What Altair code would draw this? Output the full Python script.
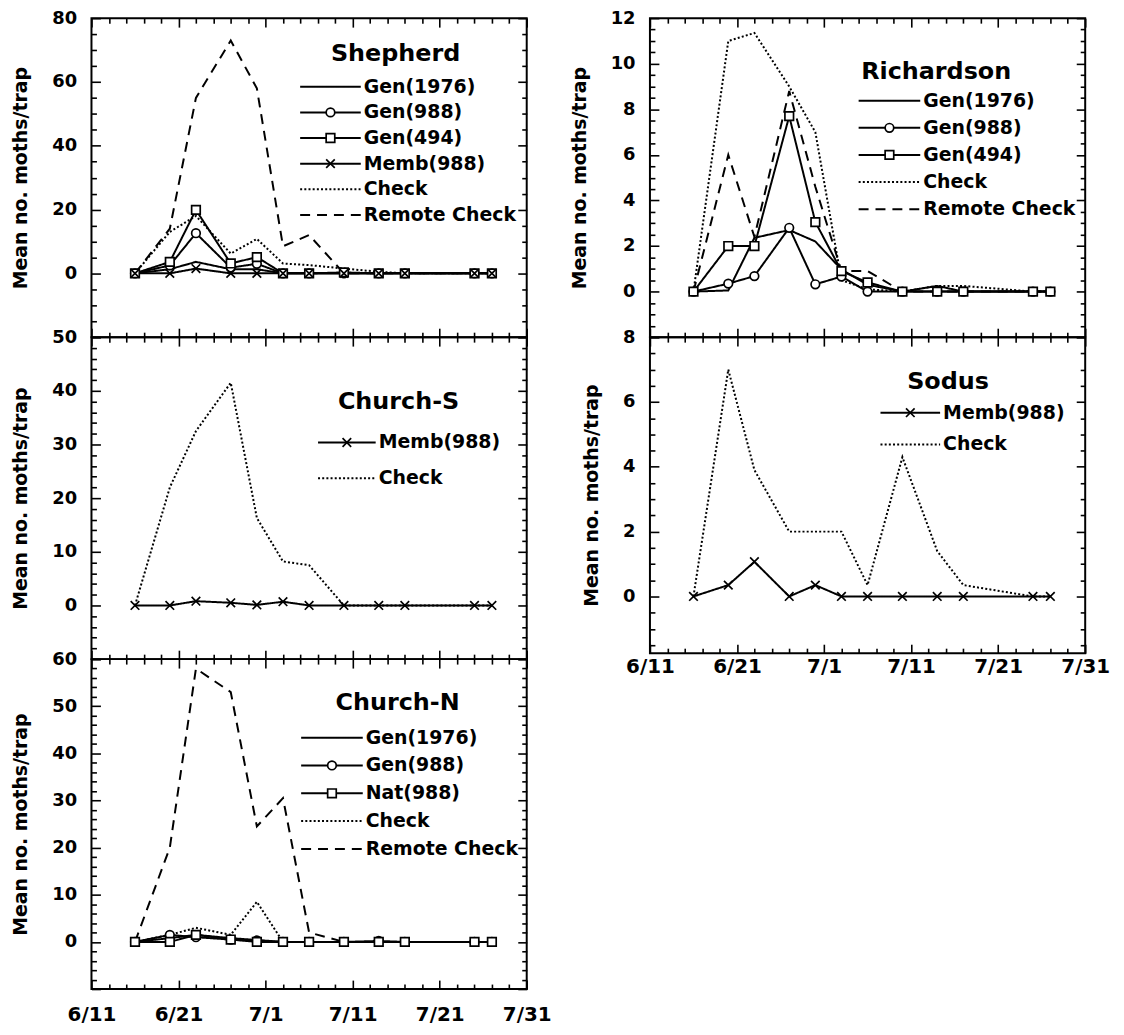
import math
import altair as alt
import pandas as pd

# ---------------- data ----------------
dates = ["6/16", "6/20", "6/23", "6/27", "6/30", "7/3", "7/6", "7/10", "7/14", "7/17", "7/25", "7/27"]
x_tick_labels = ["6/11", "6/21", "7/1", "7/11", "7/21", "7/31"]
y_title = "Mean no. moths/trap"

# Shepherd
shep_gen1976 = [0, 1.3, 3.6, 1.3, 1.3, 0, 0, 0, 0, 0, 0, 0]
shep_gen988 = [0, 2.5, 12.6, 1.8, 3.0, 0, 0, 0, 0, 0, 0, 0]
shep_gen494 = [0, 3.6, 19.9, 3.1, 5.1, 0, 0, 0.3, 0, 0, 0, 0]
shep_memb988 = [0, 0, 1.5, 0, 0, 0, 0, 0, 0, 0, 0, 0]
shep_check = [0, 13, 18, 6.2, 10.8, 3.1, 2.6, 1.5, 0.5, 0, 0, 0]
shep_remote = [0, 14, 55, 73, 58, 8.5, 12, 0, 0, 0, 0, 0]

# Church-S
chs_memb988 = [0, 0, 0.8, 0.5, 0.1, 0.7, 0, 0, 0, 0, 0, 0]
chs_check = [0, 22, 32.5, 41.5, 16.3, 8.2, 7.5, 0, 0, 0, 0, 0]

# Church-N
chn_gen1976 = [0, 0.8, 1.5, 0.8, 0.4, 0, 0, 0, 0, 0, 0, 0]
chn_gen988 = [0, 1.5, 1.0, 0.5, 0.3, 0, 0, 0, 0.2, 0, 0, 0]
chn_nat988 = [0, 0, 1.5, 0.5, 0, 0, 0, 0, 0, 0, 0, 0]
chn_check = [0, 1.5, 3.0, 1.5, 8.5, 0, 0, 0, 0, 0, 0, 0]
chn_remote = [0, 20, 58, 53, 24.5, 30.5, 2, 0, 0, 0, 0, 0]

# Richardson
ric_gen1976 = [0, 0.05, 2.36, 2.7, 2.2, 0.97, 0.3, 0, 0.25, 0, 0, 0]
ric_gen988 = [0, 0.35, 0.68, 2.8, 0.32, 0.66, 0, 0, 0, 0, 0, 0]
ric_gen494 = [0, 2.0, 2.0, 7.7, 3.05, 0.9, 0.4, 0, 0, 0, 0, 0]
ric_check = [0, 11.0, 11.35, 9.0, 7.0, 0.5, 0.1, 0, 0.25, 0.25, 0, 0]
ric_remote = [0, 6.0, 2.4, 8.8, 4.6, 0.9, 0.9, 0, 0, 0, 0, 0]

# Sodus
sod_memb988 = [0, 0.35, 1.07, 0, 0.35, 0, 0, 0, 0, 0, 0, 0]
sod_check = [0, 7.0, 3.9, 2.0, 2.0, 2.0, 0.35, 4.3, 1.4, 0.35, 0, 0]

# ---------------- styling ----------------
FONT = "DejaVu Sans"
W = 438
all_series = ["Gen(1976)", "Gen(988)", "Gen(494)", "Memb(988)", "Nat(988)", "Check", "Remote Check"]
dash_range = [[1, 0], [1, 0], [1, 0], [1, 0], [1, 0], [2, 2.2], [10, 7]]
X_PATH = "M-1,-1L1,1M-1,1L1,-1"
marker_series = ["Gen(988)", "Gen(494)", "Memb(988)", "Nat(988)"]
marker_shapes = ["circle", "square", X_PATH, "square"]
dash_scale = alt.Scale(domain=all_series, range=dash_range)
shape_scale = alt.Scale(domain=marker_series, range=marker_shapes)


def day_of(s):
    m, d = s.split("/")
    return (int(m) - 6) * 30 + int(d) - 11


days = [day_of(s) for s in dates]
x_label_days = [day_of(s) for s in x_tick_labels]
x_label_expr = " : ".join(f"datum.value == {d} ? '{l}'" for d, l in zip(x_label_days, x_tick_labels)) + " : ''"
x_ticks = list(range(0, 51, 2))


def tick_list(lo, hi, step):
    n0 = math.ceil(lo / step - 1e-9)
    n1 = math.floor(hi / step + 1e-9)
    return [round(k * step, 6) for k in range(n0, n1 + 1)]


def tick_size(step, big=9, small=5):
    test = f"abs(datum.value / {step} - round(datum.value / {step})) < 0.001"
    return {"condition": {"test": test, "value": big}, "value": small}


def tick_axis(orient, offset, values, step):
    return alt.Axis(orient=orient, offset=offset, values=values, labels=False, domain=False,
                    ticks=True, tickSize=tick_size(step), tickColor="black", tickWidth=1.6,
                    grid=False, title=None)


def panel(name, series, markers, ydomain, ymajor, yminor, height, leg, xlabel_pad=None):
    rows = []
    for s, vals in series.items():
        for d, v in zip(days, vals):
            rows.append({"series": s, "day": d, "value": v})
    df = pd.DataFrame(rows)
    xs = alt.Scale(domain=[0, 50], nice=False, zero=False)
    ys = alt.Scale(domain=ydomain, nice=False, zero=False)
    ylabels = [v for v in tick_list(0, ydomain[1], ymajor)]
    yticks = tick_list(ydomain[0], ydomain[1], yminor)

    x3 = alt.Axis(orient="bottom", values=x_label_days, labelExpr=x_label_expr, ticks=False,
                  domain=False, grid=False, title=None, labelPadding=xlabel_pad, labelFlush=False,
                  labelOverlap=False, labelFontSize=20) if xlabel_pad is not None else None
    y3 = alt.Axis(orient="left", values=ylabels, ticks=False, domain=False, grid=False,
                  title=y_title, labelPadding=15, titlePadding=21, labelOverlap=False,
                  format="d")

    lines = alt.Chart(df).mark_line(color="black", strokeWidth=2).encode(
        x=alt.X("day:Q", scale=xs, axis=x3),
        y=alt.Y("value:Q", scale=ys, axis=y3),
        strokeDash=alt.StrokeDash("series:N", scale=dash_scale, legend=None),
        detail="series:N",
    )
    pts = alt.Chart(df[df["series"].isin(markers)]).mark_point(
        filled=True, fill="white", stroke="black", strokeWidth=1.7, size=75, opacity=1
    ).encode(
        x=alt.X("day:Q", scale=xs, axis=tick_axis("bottom", -height, x_ticks, 10)),
        y=alt.Y("value:Q", scale=ys, axis=tick_axis("right", -W, yticks, ymajor)),
        shape=alt.Shape("series:N", scale=shape_scale, legend=None),
    )
    carrier = alt.Chart(df).mark_point(opacity=0).encode(
        x=alt.X("day:Q", scale=xs, axis=tick_axis("top", -height, x_ticks, 10)),
        y=alt.Y("value:Q", scale=ys, axis=tick_axis("left", -W, yticks, ymajor)),
    )

    names = list(series.keys())
    ldf = pd.DataFrame({"series": names, "idx": list(range(len(names)))})
    ldf["py"] = leg["y0"] + ldf["idx"] * leg["dy"]
    ly = alt.Y("py:Q", scale=None, axis=None)
    leg_rule = alt.Chart(ldf).mark_rule(color="black", strokeWidth=2).encode(
        x=alt.value(leg["x0"]), x2=alt.value(leg["x1"]), y=ly,
        strokeDash=alt.StrokeDash("series:N", scale=dash_scale, legend=None),
    )
    leg_pts = alt.Chart(ldf[ldf["series"].isin(markers)]).mark_point(
        filled=True, fill="white", stroke="black", strokeWidth=1.7, size=75, opacity=1
    ).encode(
        x=alt.value((leg["x0"] + leg["x1"]) / 2), y=ly,
        shape=alt.Shape("series:N", scale=shape_scale, legend=None),
    )
    leg_txt = alt.Chart(ldf).mark_text(align="left", baseline="middle", font=FONT,
                                       fontSize=19, fontWeight="bold", color="black").encode(
        x=alt.value(leg["x1"] + 3), y=ly, text="series:N",
    )
    title = alt.Chart(pd.DataFrame({"t": [name]})).mark_text(
        align="center", baseline="middle", font=FONT, fontSize=24, fontWeight="bold", color="black"
    ).encode(x=alt.value(leg["tx"]), y=alt.value(leg["ty"]), text="t:N")

    return alt.layer(lines, pts, carrier, leg_rule, leg_pts, leg_txt, title).resolve_axis(
        x="independent", y="independent"
    ).properties(width=W, height=height)


shepherd = panel(
    "Shepherd",
    {"Gen(1976)": shep_gen1976, "Gen(988)": shep_gen988, "Gen(494)": shep_gen494,
     "Memb(988)": shep_memb988, "Check": shep_check, "Remote Check": shep_remote},
    ["Gen(988)", "Gen(494)", "Memb(988)"], [-20, 80], 20, 5, 321,
    {"y0": 69, "dy": 25.8, "x0": 210, "x1": 271, "tx": 306, "ty": 36})

church_s = panel(
    "Church-S",
    {"Memb(988)": chs_memb988, "Check": chs_check},
    ["Memb(988)"], [-10, 50], 10, 2, 324,
    {"y0": 106, "dy": 36, "x0": 228, "x1": 286, "tx": 309, "ty": 65})

church_n = panel(
    "Church-N",
    {"Gen(1976)": chn_gen1976, "Gen(988)": chn_gen988, "Nat(988)": chn_nat988,
     "Check": chn_check, "Remote Check": chn_remote},
    ["Gen(988)", "Nat(988)"], [-10, 60], 10, 2, 332,
    {"y0": 79, "dy": 28, "x0": 211, "x1": 273, "tx": 308, "ty": 44}, xlabel_pad=16)

richardson = panel(
    "Richardson",
    {"Gen(1976)": ric_gen1976, "Gen(988)": ric_gen988, "Gen(494)": ric_gen494,
     "Check": ric_check, "Remote Check": ric_remote},
    ["Gen(988)", "Gen(494)"], [-2, 12], 2, 0.5, 321,
    {"y0": 83, "dy": 27.3, "x0": 210, "x1": 272, "tx": 288, "ty": 54})

sodus = panel(
    "Sodus",
    {"Memb(988)": sod_memb988, "Check": sod_check},
    ["Memb(988)"], [-1.75, 8], 2, 0.5, 318,
    {"y0": 76, "dy": 32, "x0": 232, "x1": 292, "tx": 300, "ty": 45}, xlabel_pad=3)

left = alt.vconcat(shepherd, church_s, church_n, spacing=0, bounds="flush")
right = alt.vconcat(richardson, sodus, spacing=0, bounds="flush")

chart = alt.hconcat(left, right, spacing=16).properties(
    padding={"left": 2, "top": -3, "right": 5, "bottom": 5}, background="white"
).configure_view(stroke="black", strokeWidth=2).configure_axis(
    labelFont=FONT, labelFontSize=18, labelFontWeight="bold", labelColor="black",
    titleFont=FONT, titleFontSize=19, titleFontWeight="bold", titleColor="black",
)

chart.save("out.html", embed_options={"renderer": "svg", "actions": False})
